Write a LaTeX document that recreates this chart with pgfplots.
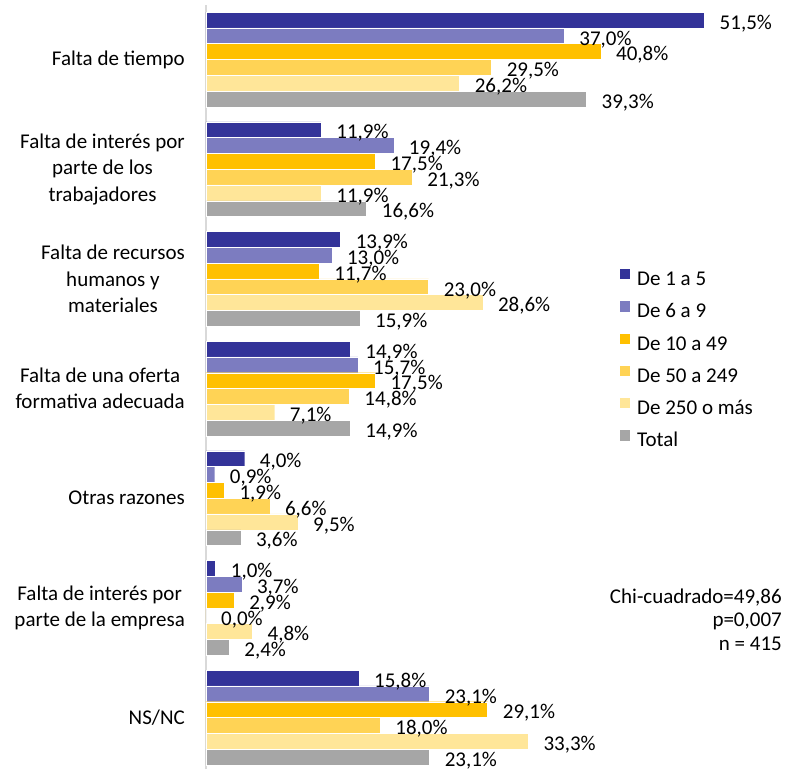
\documentclass[border=0pt]{standalone}
\usepackage{fontspec}
\setmainfont{Carlito}
\usepackage{pgfplots}
\pgfplotsset{compat=1.18}
\definecolor{c1}{RGB}{51,51,153}
\definecolor{c2}{RGB}{124,124,192}
\definecolor{c3}{RGB}{255,192,0}
\definecolor{c4}{RGB}{255,211,85}
\definecolor{c5}{RGB}{255,230,153}
\definecolor{c6}{RGB}{166,166,166}
\begin{document}
\begin{tikzpicture}[font=\fontsize{21}{26}\selectfont]
\begin{axis}[
  scale only axis, width=580.8pt, height=764pt,
  at={(0pt,0pt)}, anchor=south west,
  xmin=0, xmax=60, ymin=-0.4695, ymax=6.497,
  xbar, bar width=15.8pt,
  axis x line=none, axis y line*=left,
  y axis line style={-, draw=black!15, line width=1.3pt},
  ytick={0,...,6},
  yticklabels={{NS/NC},{Falta de interés por\\parte de la empresa},{Otras razones},{Falta de una oferta\\formativa adecuada},{Falta de recursos\\humanos y\\materiales},{Falta de interés por\\parte de los\\trabajadores},{Falta de tiempo}},
  ytick style={draw=none}, major tick length=0pt,
  yticklabel style={align=center, inner sep=0pt, xshift=-21pt, font=\fontsize{21}{26.5}\selectfont},
  point meta=x,
  nodes near coords={\pgfmathprintnumber[fixed,fixed zerofill,precision=1,use comma]{\pgfplotspointmeta}\%},
  nodes near coords style={anchor=base west, inner sep=0pt, xshift=15pt, yshift=-9.3pt, font=\fontsize{21}{26}\selectfont, text=black},
  /pgf/number format/assume math mode=true,
  clip=false,
  legend cell align=left,
  legend image code/.code={\fill[#1] (0pt,0.99pt) rectangle (11.3pt,12.3pt);},
  legend style={draw=none, fill=none, at={(0.7111,0.6558)}, anchor=north west, inner sep=0pt, outer sep=0pt,
    row sep=9.8pt, font=\fontsize{21}{26}\selectfont,
    nodes={inner sep=0pt, text height=15pt, text depth=5pt},
    /tikz/every odd column/.append style={column sep=6.5pt}},
]
\addplot[fill=c1, draw=white, line width=0.4pt, bar shift=39.5pt] coordinates {(51.5,6) (11.9,5) (13.9,4) (14.9,3) (4.0,2) (1.0,1) (15.8,0)};
\addplot[fill=c2, draw=white, line width=0.4pt, bar shift=23.7pt] coordinates {(37.0,6) (19.4,5) (13.0,4) (15.7,3) (0.9,2) (3.7,1) (23.1,0)};
\addplot[fill=c3, draw=white, line width=0.4pt, bar shift=7.9pt] coordinates {(40.8,6) (17.5,5) (11.7,4) (17.5,3) (1.9,2) (2.9,1) (29.1,0)};
\addplot[fill=c4, draw=white, line width=0.4pt, bar shift=-7.9pt] coordinates {(29.5,6) (21.3,5) (23.0,4) (14.8,3) (6.6,2) (0.0,1) (18.0,0)};
\addplot[fill=c5, draw=white, line width=0.4pt, bar shift=-23.7pt] coordinates {(26.2,6) (11.9,5) (28.6,4) (7.1,3) (9.5,2) (4.8,1) (33.3,0)};
\addplot[fill=c6, draw=white, line width=0.4pt, bar shift=-39.5pt] coordinates {(39.3,6) (16.6,5) (15.9,4) (14.9,3) (3.6,2) (2.4,1) (23.1,0)};
\legend{De 1 a 5, De 6 a 9, De 10 a 49, De 50 a 249, De 250 o más, Total}
\end{axis}
\node[anchor=base east, inner sep=0pt] at (576pt,166pt) {Chi-cuadrado=49,86};
\node[anchor=base east, inner sep=0pt] at (576pt,142.5pt) {p=0,007};
\node[anchor=base east, inner sep=0pt] at (576pt,119pt) {n = 415};
\pgfresetboundingbox
\path[use as bounding box] (-206pt,0pt) rectangle (583pt,769pt);
\end{tikzpicture}
\end{document}
